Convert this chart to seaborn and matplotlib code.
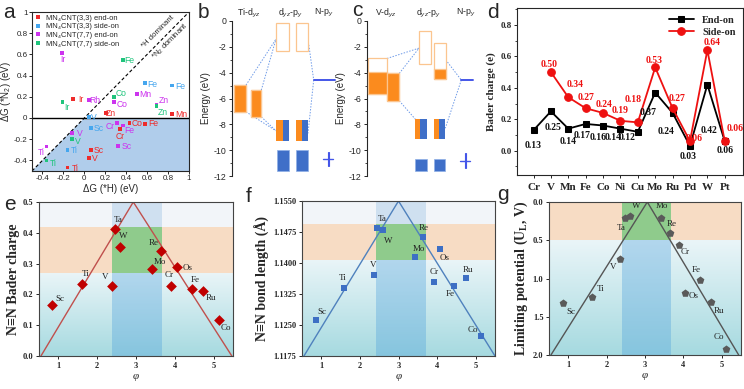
import matplotlib
matplotlib.use('Agg')
import matplotlib.pyplot as plt
import numpy as np
import pandas as pd
import seaborn as sns
from matplotlib.colors import LinearSegmentedColormap
from matplotlib.patches import Rectangle
from matplotlib.ticker import MultipleLocator, FuncFormatter

# ---------------- data ----------------
# (a) dG(*H) vs dG(*N2)
a_end33_el = ['Ir', 'Zn', 'Co', 'Fe', 'Mn', 'Cr', 'Sc', 'V', 'Ti']
a_end33_h = [-0.108, 0.204, 0.43, 0.582, 0.84, 0.34, 0.064, 0.045, -0.162]
a_end33_n2 = [0.18, 0.045, -0.045, -0.055, 0.036, -0.106, -0.302, -0.379, -0.466]

a_side33_el = ['Fe', 'Fe', 'V', 'Sc', 'Ti']
a_side33_h = [0.577, 0.84, 0.045, 0.064, -0.162]
a_side33_n2 = [0.328, 0.306, 0.007, -0.093, -0.302]

a_end77_el = ['Ir', 'Rh', 'Co', 'Mn', 'Zn', 'Cr', 'Fe', 'Sc', 'V', 'Ti']
a_end77_h = [-0.216, 0.045, 0.283, 0.506, 0.69, 0.31, 0.37, 0.322, -0.118, -0.362]
a_end77_n2 = [0.614, 0.167, 0.154, 0.225, 0.125, -0.045, -0.07, -0.267, -0.142, -0.27]

a_side77_el = ['Fe', 'Co', 'Ir', 'Zn', 'V', 'Ti']
a_side77_h = [0.37, 0.283, -0.21, 0.688, -0.118, -0.362]
a_side77_n2 = [0.55, 0.196, 0.151, 0.116, -0.2, -0.402]

# (b) Ti orbital diagram, energies in eV (top, bottom)
b_metal_top = [-4.96, -5.35]
b_metal_bot = [-7.03, -7.42]
b_metal_fill = [-4.96, -5.35]
b_anti_top = [-0.18, -0.18]
b_anti_bot = [-2.33, -2.33]
b_anti_fill = [None, None]
b_bond_top = [-7.67, -7.67]
b_bond_bot = [-9.3, -9.3]
b_low_top = [-10.0, -10.0]
b_low_bot = [-11.63, -11.63]
b_np = -4.57
b_np_low = -10.7

# (c) V orbital diagram
c_metal_top = [-2.9, -4.06]
c_metal_bot = [-5.69, -6.18]
c_metal_fill = [-3.93, -4.06]
c_anti_top = [-0.78, -1.73]
c_anti_bot = [-3.36, -4.5]
c_anti_fill = [None, -3.75]
c_bond_top = [-7.55, -7.55]
c_bond_bot = [-9.1, -9.1]
c_low_top = [-10.72, -10.72]
c_low_bot = [-11.6, -11.6]
c_np = -4.57
c_np_low = -10.8

# (d) Bader charge
d_elements = ['Cr', 'V', 'Mn', 'Fe', 'Co', 'Ni', 'Cu', 'Mo', 'Ru', 'Pd', 'W', 'Pt']
d_end_on = [0.13, 0.25, 0.14, 0.17, 0.16, 0.14, 0.12, 0.37, 0.24, 0.03, 0.42, 0.06]
d_side_on = [np.nan, 0.50, 0.34, 0.27, 0.24, 0.19, 0.18, 0.53, 0.27, 0.06, 0.64, 0.06]

# (e-g) volcano plots
v_el = ['Sc', 'Ti', 'V', 'Ta', 'W', 'Mo', 'Re', 'Cr', 'Os', 'Fe', 'Ru', 'Co']
e_phi = [0.84, 1.61, 2.37, 2.45, 2.60, 3.42, 3.64, 3.90, 4.06, 4.45, 4.73, 5.14]
e_charge = [0.165, 0.234, 0.226, 0.411, 0.355, 0.282, 0.342, 0.227, 0.289, 0.216, 0.211, 0.116]
e_line_phi = [0.55, 2.93, 5.47]
e_line_val = [0.0, 0.5, 0.0]

f_phi = [0.85, 1.60, 2.36, 2.44, 2.61, 3.43, 3.64, 3.91, 4.08, 4.45, 4.75, 5.14]
f_bond = [1.1262, 1.1340, 1.1370, 1.1485, 1.1481, 1.1414, 1.1464, 1.1354, 1.1434, 1.1345, 1.1364, 1.1223]
f_line_phi = [0.55, 3.0, 5.5]
f_line_val = [1.1175, 1.1550, 1.1175]

g_phi = [0.87, 1.62, 2.35, 2.48, 2.61, 3.41, 3.64, 3.89, 4.05, 4.43, 4.72, 5.10]
g_ul = [1.317, 1.248, 0.743, 0.204, 0.183, 0.204, 0.40, 0.557, 1.196, 1.026, 1.313, 1.917]
g_line_phi = [0.55, 3.06, 5.44]
g_line_val = [2.0, 0.0, 2.0]

# ---------------- style ----------------
sns.set_style('ticks')
plt.rcParams['font.family'] = ['Liberation Sans', 'DejaVu Sans']
plt.rcParams['mathtext.fontset'] = 'custom'
plt.rcParams['mathtext.rm'] = 'Liberation Sans'
plt.rcParams['mathtext.it'] = 'Liberation Sans:italic'
plt.rcParams['mathtext.bf'] = 'Liberation Serif:bold'
plt.rcParams['axes.linewidth'] = 0.8
plt.rcParams['xtick.major.width'] = 0.7
plt.rcParams['ytick.major.width'] = 0.7
plt.rcParams['xtick.major.size'] = 2.5
plt.rcParams['ytick.major.size'] = 2.5

SERIF = ['Liberation Serif', 'DejaVu Serif']
W, H = 744, 389
fig = plt.figure(figsize=(W / 100, H / 100), dpi=100)


def rect(l, t, r, b):
    return [l / W, 1 - b / H, (r - l) / W, (b - t) / H]


def panel_label(x, y, s):
    fig.text(x / W, 1 - y / H, s, fontsize=15, ha='center', va='center')


# ---------------- (a) ----------------
RED, BLUE, MAG, GRN = '#ee2b2b', '#45a6ee', '#cc33ee', '#1fc47c'
a_names = ['MN₄CNT(3,3) end-on', 'MN₄CNT(3,3) side-on',
           'MN₄CNT(7,7) end-on', 'MN₄CNT(7,7) side-on']
a_colors = dict(zip(a_names, [RED, BLUE, MAG, GRN]))
a_off = [
    [(5.5, -0.5), (3.5, 0), (5.5, -0.5), (5.5, 0), (6.5, 0), (0, -5), (5.8, 0), (4.3, 0), (5.5, -0.5)],
    [(5.5, -1), (5.5, -0.5), (3.5, 0), (5.8, -0.5), (4.8, -0.2)],
    [(1, -5), (4.5, 0), (6, -2), (5.5, -0.5), (5.5, 3), (-5, -2.4), (4.3, -4), (6, 0), (5.5, 0), (-4, -4.5)],
    [(4.8, -0.5), (5.3, 3), (3, -4), (4.3, -4.8), (4.3, -2), (4.8, -2.2)],
]
frames = []
for nm, el, h, n2 in zip(a_names,
                         [a_end33_el, a_side33_el, a_end77_el, a_side77_el],
                         [a_end33_h, a_side33_h, a_end77_h, a_side77_h],
                         [a_end33_n2, a_side33_n2, a_end77_n2, a_side77_n2]):
    frames.append(pd.DataFrame({'el': el, 'dG_H': h, 'dG_N2': n2, 'series': nm}))
df_a = pd.concat(frames, ignore_index=True)

ax = fig.add_axes(rect(32, 12, 189, 171))
ax.fill([-0.5, 0, 1, 1], [-0.5, 0, 0, -0.5], color='#b0cdeb', lw=0, zorder=0)
ax.plot([-0.5, 1], [-0.5, 1], color='black', lw=0.8, dashes=(3, 2), zorder=1)
ax.axhline(0, color='black', lw=1.0, zorder=1)
sns.scatterplot(data=df_a, x='dG_H', y='dG_N2', hue='series', hue_order=a_names,
                palette=a_colors, marker='s', s=7, linewidth=0, ax=ax, zorder=3)
for nm, offs in zip(a_names, a_off):
    sub = df_a[df_a['series'] == nm].reset_index(drop=True)
    for i, row in sub.iterrows():
        ax.annotate(row['el'], (row['dG_H'], row['dG_N2']), xytext=offs[i],
                    textcoords='offset points', ha='center', va='center',
                    color=a_colors[nm], fontsize=6.2)
ax.text(0.70, 0.81, '*H dominant', rotation=45, ha='center', va='center', fontsize=5.6)
ax.text(0.82, 0.72, '*N$_2$ dominant', rotation=45, ha='center', va='center', fontsize=5.6)
ax.set_xlim(-0.5, 1)
ax.set_ylim(-0.5, 1)
ax.xaxis.set_major_locator(MultipleLocator(0.2))
ax.yaxis.set_major_locator(MultipleLocator(0.2))
fmt = FuncFormatter(lambda v, p: f'{v:.1f}'.replace('.0', '') if abs(v) > 1e-9 else '0')
ax.xaxis.set_major_formatter(fmt)
ax.yaxis.set_major_formatter(fmt)
ax.tick_params(labelsize=5.8, pad=1.2, length=2)
ax.set_xlabel('ΔG (*H) (eV)', fontsize=7, labelpad=1)
ax.set_ylabel('ΔG (*N$_2$) (eV)', fontsize=7)
ax.yaxis.set_label_coords(-0.118, 0.5)
ax.legend(loc='upper left', frameon=False, fontsize=5.4, markerscale=1.2,
          handletextpad=0.5, labelspacing=0.2, borderaxespad=0.1, handlelength=1.0,
          borderpad=0.2)
panel_label(9, 13, 'a')

# ---------------- (b), (c) ----------------
ORA, ORA_E, BLU, NBLU = '#fb8b1e', '#fbc58f', '#3f6fc8', '#4456e8'


def draw_box(ax, x0, x1, top, bot, fill):
    ax.add_patch(Rectangle((x0, bot), x1 - x0, top - bot, fc='white', ec=ORA_E, lw=0.9, zorder=2))
    if fill is not None:
        ax.add_patch(Rectangle((x0, bot), x1 - x0, fill - bot, fc=ORA, ec=ORA_E, lw=0.9, zorder=3))


def draw_mix(ax, x0, x1, top, bot, frac):
    xm = x0 + (x1 - x0) * frac
    ax.add_patch(Rectangle((x0, bot), xm - x0, top - bot, fc=ORA, lw=0, zorder=3))
    ax.add_patch(Rectangle((xm, bot), x1 - xm, top - bot, fc=BLU, lw=0, zorder=3))


def orbital_panel(ax, cols, metal, anti, bond, low, np_e, np_low, links, frac, heads):
    (mx, ax_, bx, lx, nx, ncx) = cols
    for (x0, x1), t, b_, f in zip(mx, *metal):
        draw_box(ax, x0, x1, t, b_, f)
    for (x0, x1), t, b_, f in zip(ax_, *anti):
        draw_box(ax, x0, x1, t, b_, f)
    for (x0, x1), t, b_ in zip(bx, *bond):
        draw_mix(ax, x0, x1, t, b_, frac)
    for (x0, x1), t, b_ in zip(lx, *low):
        ax.add_patch(Rectangle((x0, b_), x1 - x0, t - b_, fc=BLU, ec='#8fb0e6', lw=0.5, zorder=3))
    ax.plot(nx, [np_e, np_e], color=NBLU, lw=1.4, zorder=3)
    ax.plot([ncx - 5, ncx + 5], [np_low, np_low], color=NBLU, lw=1.0, zorder=3)
    for dx in (-0.8, 0.8):
        ax.plot([ncx + dx, ncx + dx], [np_low + 0.55, np_low - 0.55], color=NBLU, lw=0.8, zorder=3)
    for (p, q) in links:
        ax.plot([p[0], q[0]], [p[1], q[1]], color='#6f9be8', lw=0.7, ls=(0, (1.5, 1.5)), zorder=1)
    for x, s in heads:
        ax.text(x, 0.62, s, ha='center', va='center', fontsize=6.3)
    ax.set_xlim(0, 113)
    ax.set_ylim(-12, 0)
    ax.yaxis.set_major_locator(MultipleLocator(2))
    ax.yaxis.set_minor_locator(MultipleLocator(1))
    ax.yaxis.set_major_formatter(FuncFormatter(lambda v, p: f'{v:g}'))
    ax.tick_params(axis='y', labelsize=6.3, pad=1.5, which='both')
    ax.tick_params(axis='y', which='minor', length=1.5, width=0.6)
    ax.set_xticks([])
    for sp in ('top', 'right', 'bottom'):
        ax.spines[sp].set_visible(False)
    ax.set_ylabel('Energy (eV)', fontsize=7, labelpad=2)
    ax.patch.set_alpha(0)


ax = fig.add_axes(rect(232, 21, 345, 176))
orbital_panel(
    ax,
    ([(2.3, 14), (19, 29.3)], [(44, 56.7), (63.7, 76)], [(44, 56.7), (63.7, 76)],
     [(44.6, 56.7), (63.7, 76)], [81.7, 103.3], 96.3),
    (b_metal_top, b_metal_bot, b_metal_fill), (b_anti_top, b_anti_bot, b_anti_fill),
    (b_bond_top, b_bond_bot), (b_low_top, b_low_bot), b_np, b_np_low,
    [((14, -4.96), (44, -1.4)), ((29.3, -5.35), (44, -1.4)),
     ((14, -7.03), (44, -8.5)), ((29.3, -7.42), (44, -8.5)),
     ((76, -1.4), (81.7, -4.57)), ((81.7, -4.57), (76, -8.7))],
    0.55,
    [(17, 'Ti-d$_{yz}$'), (58, 'd$_{yz}$-p$_y$'), (92, 'N-p$_y$')])
panel_label(203, 13, 'b')

ax = fig.add_axes(rect(367, 21, 480, 176))
orbital_panel(
    ax,
    ([(1.3, 20), (20.3, 32.3)], [(52, 64), (66.7, 78.7)], [(48.3, 60), (66.7, 78.3)],
     [(48.3, 60), (66.7, 78.3)], [94.3, 106.3], 98.3),
    (c_metal_top, c_metal_bot, c_metal_fill), (c_anti_top, c_anti_bot, c_anti_fill),
    (c_bond_top, c_bond_bot), (c_low_top, c_low_bot), c_np, c_np_low,
    [((20, -2.9), (52, -2.1)), ((32.3, -4.06), (52, -2.1)),
     ((32.3, -6.18), (48.3, -7.6)),
     ((78.7, -3.0), (94.3, -4.57)), ((94.3, -4.57), (78.3, -8.3))],
    0.43,
    [(19, 'V-d$_{yz}$'), (61, 'd$_{yz}$-p$_y$'), (99, 'N-p$_y$')])
panel_label(357, 10, 'c')

# ---------------- (d) ----------------
ax = fig.add_axes(rect(517, 8, 743, 175))
xi = np.arange(len(d_elements))
sns.lineplot(x=xi, y=d_end_on, color='black', marker='s', markersize=5, lw=1.3,
             markeredgecolor='black', label='End-on', ax=ax)
sns.lineplot(x=xi, y=d_side_on, color='#ee1111', marker='o', markersize=5.5, lw=1.3,
             markeredgecolor='#ee1111', label='Side-on', ax=ax)
end_off = [(0, -0.1), (0.14, -0.1), (0, -0.083), (-0.2, -0.074), (-0.3, -0.075), (-0.4, -0.055),
           (-0.6, -0.035), (-0.4, -0.127), (-0.4, -0.12), (-0.1, -0.068), (0.1, -0.29), (0, -0.056)]
side_off = [None, (-0.09, 0.05), (0.37, 0.08), (0, 0.07), (0.08, 0.055), (0, 0.063),
            (-0.27, 0.143), (-0.07, 0.044), (0.25, 0.06), (0.26, 0.019), (0.28, 0.049), (0.57, 0.078)]
for i in xi:
    dx, dy = end_off[i]
    ax.text(i + dx, d_end_on[i] + dy, f'{d_end_on[i]:.2f}', ha='center', va='center',
            fontsize=7, family=SERIF, weight='bold', color='#111111')
    if side_off[i] is not None:
        dx, dy = side_off[i]
        ax.text(i + dx, d_side_on[i] + dy, f'{d_side_on[i]:.2f}', ha='center', va='center',
                fontsize=7, family=SERIF, weight='bold', color='#ee1111')
ax.set_xlim(-0.95, 12.05)
ax.set_ylim(-0.155, 0.908)
ax.set_xticks(xi)
ax.set_xticklabels(d_elements, family=SERIF, weight='bold', fontsize=8)
ax.yaxis.set_major_locator(MultipleLocator(0.2))
ax.yaxis.set_minor_locator(MultipleLocator(0.1))
ax.yaxis.set_major_formatter(FuncFormatter(lambda v, p: f'{v:.1f}'))
for lab in ax.get_yticklabels():
    lab.set_fontfamily(SERIF)
    lab.set_fontweight('bold')
ax.tick_params(axis='y', labelsize=6.5, pad=1.5)
ax.tick_params(axis='y', which='minor', length=1.5)
ax.set_ylabel('Bader charge (e)', family=SERIF, weight='bold', fontsize=8, labelpad=3)
ax.legend(loc='upper right', frameon=False, prop={'family': SERIF, 'weight': 'bold', 'size': 7.5},
          handlelength=2.4, labelspacing=0.3, borderaxespad=0.3)
panel_label(493, 13, 'd')

# ---------------- (e-g) ----------------
bg_cmap = LinearSegmentedColormap.from_list('bg', ['#eaf5f8', '#a6dae0'])


def volcano(ax, phi, val, line_phi, line_val, ylim, band, vband, marker, mcolor, msize,
            lcolor, offs, yfmt, ystep, ylabel):
    y_far, y_top = ylim
    if abs(band[0] - y_far) < abs(band[1] - y_far):
        b_near, b_other = band
    else:
        b_other, b_near = band
    grad = np.linspace(1, 0, 200).reshape(-1, 1)
    ax.imshow(grad, extent=(0.5, 5.5, y_far, b_near), origin='lower', aspect='auto',
              cmap=bg_cmap, vmin=0, vmax=1, zorder=0)
    ax.add_patch(Rectangle((0.5, b_near), 5, b_other - b_near, fc='#f7dcc4', lw=0, zorder=0))
    ax.add_patch(Rectangle((0.5, b_other), 5, y_top - b_other, fc='#f2f5f9', lw=0, zorder=0))
    vx0, vx1 = vband
    ax.add_patch(Rectangle((vx0, y_far), vx1 - vx0, b_near - y_far, fc='#4b9fdc', alpha=0.35, lw=0, zorder=0.5))
    ax.add_patch(Rectangle((vx0, b_near), vx1 - vx0, b_other - b_near, fc='#8fcb8c', lw=0, zorder=0.5))
    ax.add_patch(Rectangle((vx0, b_other), vx1 - vx0, y_top - b_other, fc='#cfe0f0', lw=0, zorder=0.5))
    sns.lineplot(x=line_phi, y=line_val, color=lcolor, lw=1.0, sort=False, ax=ax, zorder=2)
    df = pd.DataFrame({'phi': phi, 'val': val, 'el': v_el})
    sns.scatterplot(data=df, x='phi', y='val', marker=marker, color=mcolor, s=msize,
                    linewidth=0, ax=ax, zorder=3)
    for (_, r), o in zip(df.iterrows(), offs):
        ax.annotate(r['el'], (r['phi'], r['val']), xytext=o, textcoords='offset points',
                    ha='center', va='center', fontsize=6.5, family=SERIF, color='#222222')
    ax.set_xlim(0.5, 5.5)
    ax.set_ylim(*ylim)
    ax.set_xticks([1, 2, 3, 4, 5])
    ax.yaxis.set_major_locator(MultipleLocator(ystep))
    ax.yaxis.set_major_formatter(FuncFormatter(lambda v, p: yfmt.format(v)))
    for lab in ax.get_xticklabels() + ax.get_yticklabels():
        lab.set_fontfamily(SERIF)
        lab.set_fontweight('bold')
    ax.tick_params(labelsize=6, pad=1.5)
    ax.set_xlabel('φ', family=SERIF, style='italic', fontsize=8, labelpad=2)
    ax.set_ylabel(ylabel, family=SERIF, weight='bold', fontsize=10, labelpad=2)
    for sp in ax.spines.values():
        sp.set_color('#444444')
        sp.set_zorder(5)


ax = fig.add_axes(rect(39, 202, 233, 356))
volcano(ax, e_phi, e_charge, e_line_phi, e_line_val, (0.0, 0.5), (0.27, 0.42), (2.38, 3.68),
        'D', '#c00000', 30, '#c0504d',
        [(5.3, 4.6), (2.4, 7.4), (-4.8, 6.7), (2.4, 7), (1.7, 7.7), (5.3, 5), (-4.8, 5.8),
         (-1.4, 7.7), (7.2, -0.7), (2.4, 7), (6, -5), (5, -5.5)],
        '{:.1f}', 0.1, 'N≡N Bader charge')
panel_label(10, 204, 'e')

ax = fig.add_axes(rect(302, 201, 495, 356))
volcano(ax, f_phi, f_bond, f_line_phi, f_line_val, (1.1175, 1.1550), (1.1408, 1.1494), (2.42, 3.72),
        's', '#3d6fc4', 20, '#4f81bd',
        [(4.3, 5.8), (-1, 7.4), (-0.5, 7.2), (3.6, 6.2), (3.6, -8.2), (2.6, 6.2), (0.2, 6.5),
         (0.7, 7), (3.4, -6.7), (-2.9, -6), (1.2, 6), (-5.8, 4.3)],
        '{:.4f}', 0.0075, 'N≡N bond length (Å)')
panel_label(249, 196, 'f')

ax = fig.add_axes(rect(549, 202, 741, 355))
volcano(ax, g_phi, g_ul, g_line_phi, g_line_val, (2.0, 0.0), (0.0, 0.5), (2.39, 3.68),
        'p', '#5a5a5a', 34, '#555555',
        [(5.5, -6.5), (6, 6), (-4.8, -5.8), (-2.4, -7.4), (4.8, 7), (0.5, 8.2), (1.7, 6.5),
         (4.6, -5.5), (5.8, -1.7), (-2.4, 7.4), (5.8, -6.2), (-5, 8.2)],
        '{:.1f}', 0.5, r'Limiting potential (U$_\mathbf{L}$, V)')
panel_label(503, 194, 'g')

fig.savefig('out.png', dpi=100)
